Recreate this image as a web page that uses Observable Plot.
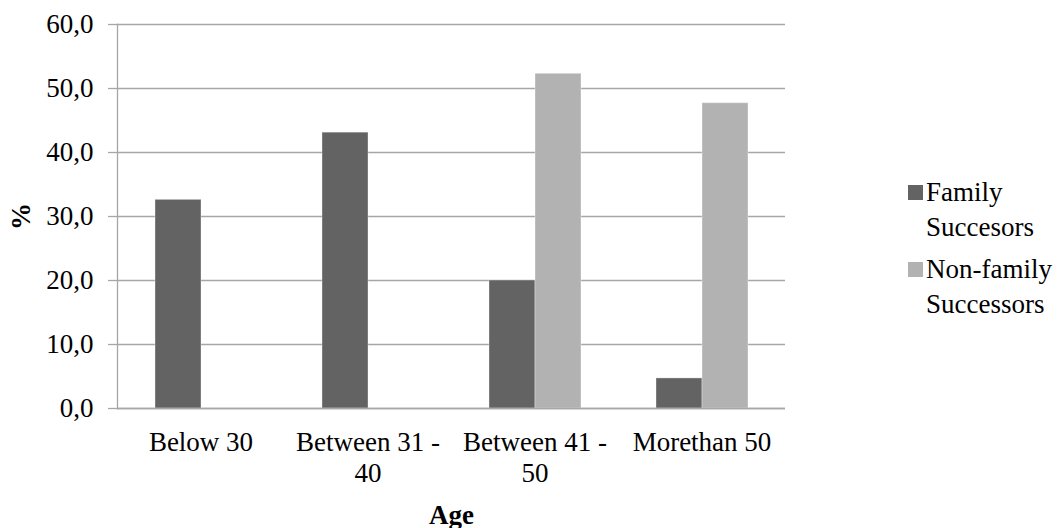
<!DOCTYPE html>
<html><head><meta charset="utf-8">
<script src="https://cdn.jsdelivr.net/npm/d3@7"></script>
<script src="https://cdn.jsdelivr.net/npm/@observablehq/plot@0.6"></script>
<style>
body{margin:0;background:#fff;}
#wrap{position:relative;width:1058px;height:528px;overflow:hidden;}
svg text{font-family:"Liberation Serif","Times New Roman","DejaVu Serif",serif;}
g[aria-label="fx-axis label"], g[aria-label="y-axis label"]{font-weight:bold;}
.item{position:absolute;left:926px;font-family:"Liberation Serif","Times New Roman","DejaVu Serif",serif;font-size:27px;line-height:35px;color:#000;white-space:nowrap;}
.sw{position:absolute;left:-18px;top:10px;width:15px;height:15px;}
</style></head><body><div id="wrap"></div>
<script>
const ageGroups = ["Below 30","Between 31 - 40","Between 41 - 50","More than 50"];
const ageLabels = ["Below 30","Between 31 -\n40","Between 41 -\n50","Morethan 50"];
const seriesNames = ["Family Succesors","Non-family Successors"];
const legendLines = [["Family","Succesors"],["Non-family","Successors"]];
const familyValues = [32.6,43.1,20.0,4.7];
const nonFamilyValues = [0,0,52.3,47.7];
const yTicks = [0,10,20,30,40,50,60];
const seriesColors = ["#636363","#b2b2b2"];

const data = ageGroups.flatMap((a,i)=>[
  {age:a, series:seriesNames[0], value:familyValues[i]},
  {age:a, series:seriesNames[1], value:nonFamilyValues[i]}
]);
const grid = "#a6a6a6";
const chart = Plot.plot({
  width:1058, height:528,
  marginLeft:117, marginRight:273, marginTop:24, marginBottom:120,
  style:{fontFamily:'"Liberation Serif", "Times New Roman", serif', fontSize:"27px", color:"#000", background:"#fff", overflow:"visible"},
  fx:{domain:ageGroups, padding:0},
  x:{domain:seriesNames, paddingInner:0, paddingOuter:0.777, axis:null},
  y:{domain:[0,60]},
  color:{domain:seriesNames, range:seriesColors},
  marks:[
    Plot.gridY(yTicks, {stroke:grid, strokeOpacity:1, strokeWidth:1.3}),
    Plot.axisY(yTicks, {tickSize:9, tickPadding:15, stroke:grid, strokeWidth:1.3,
      tickFormat:d=>d.toFixed(1).replace(".",","), label:"%", labelAnchor:"center", labelArrow:false, labelOffset:107}),
    Plot.barY(data, {fx:"age", x:"series", y:"value", fill:"series", stroke:"#ffffff", strokeOpacity:0.35, strokeWidth:1}),
    Plot.ruleY([0], {stroke:grid, strokeWidth:1.3}),
    Plot.frame({anchor:"left", facetAnchor:"left", stroke:grid, strokeWidth:1.3}),
    Plot.axisFx({anchor:"bottom", tickSize:0, tickPadding:20, lineHeight:1.15,
      tickFormat:a=>ageLabels[ageGroups.indexOf(a)], label:"Age", labelAnchor:"center", labelArrow:false, labelOffset:115})
  ]
});
const wrap = document.getElementById("wrap");
wrap.appendChild(chart);
const tops = [175, 252];
seriesNames.forEach((s,i)=>{
  const d = document.createElement("div");
  d.className = "item";
  d.style.top = tops[i] + "px";
  d.innerHTML = `<span class="sw" style="background:${seriesColors[i]}"></span>${legendLines[i].join("<br>")}`;
  wrap.appendChild(d);
});
</script></body></html>
